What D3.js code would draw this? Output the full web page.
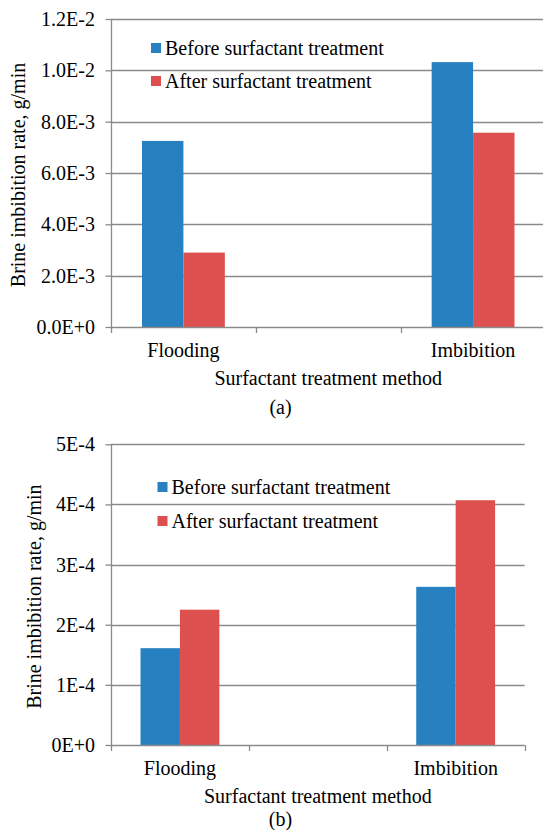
<!DOCTYPE html>
<html>
<head>
<meta charset="utf-8">
<script src="https://cdn.jsdelivr.net/npm/d3@7"></script>
</head>
<body style="margin:0">
<svg id="chart" width="543" height="830" font-family="Liberation Serif"></svg>
<script>
// ---------------- data ----------------
const categories = ["Flooding", "Imbibition"];
const bandSlots = ["Flooding", "", "Imbibition"];   // Excel category slots (middle one empty)
const seriesNames = ["Before surfactant treatment", "After surfactant treatment"];

const beforeA = [7.25e-3, 1.032e-2];
const afterA  = [2.90e-3, 7.57e-3];
const beforeB = [1.61e-4, 2.63e-4];
const afterB  = [2.25e-4, 4.07e-4];

const ticksA = [0, 2e-3, 4e-3, 6e-3, 8e-3, 1.0e-2, 1.2e-2];
const tickLabelsA = ["0.0E+0", "2.0E-3", "4.0E-3", "6.0E-3", "8.0E-3", "1.0E-2", "1.2E-2"];
const ticksB = [0, 1e-4, 2e-4, 3e-4, 4e-4, 5e-4];
const tickLabelsB = ["0E+0", "1E-4", "2E-4", "3E-4", "4E-4", "5E-4"];

const yTitle = "Brine imbibition rate, g/min";
const xTitle = "Surfactant treatment method";
const colors = ["#2780C0", "#DE5050"];

// ---------------- drawing ----------------
const svg = d3.select("#chart");
const gridColor = "#8a8a8a";

function addText(parent, x, y, str, anchor) {
  return parent.append("text")
    .attr("font-family", "Liberation Serif")
    .attr("font-size", 20)
    .attr("x", x).attr("y", y)
    .attr("text-anchor", anchor || "start")
    .text(str);
}

function drawPanel(cfg) {
  const g = svg.append("g");
  const x = d3.scaleBand().domain(bandSlots).range([cfg.left, cfg.right]);
  const y = d3.scaleLinear().domain([0, cfg.max]).range([cfg.bottom, cfg.top]);

  // gridlines
  g.selectAll("line.grid").data(cfg.ticks.slice(1)).join("line")
    .attr("x1", cfg.left).attr("x2", cfg.gridRight)
    .attr("y1", d => Math.round(y(d)) + 0.5).attr("y2", d => Math.round(y(d)) + 0.5)
    .attr("stroke", gridColor).attr("stroke-width", 1.3);

  // bars
  const inner = d3.scaleBand().domain([0, 1]).range([0, x.bandwidth() * 0.572]);
  const off = x.bandwidth() * (1 - 0.572) / 2;
  [cfg.before, cfg.after].forEach((vals, si) => {
    g.selectAll("rect.s" + si).data(categories).join("rect")
      .attr("x", c => x(c) + off + inner(si))
      .attr("y", (c, i) => y(vals[i]))
      .attr("width", inner.bandwidth())
      .attr("height", (c, i) => y(0) - y(vals[i]))
      .attr("fill", colors[si]);
  });

  // y axis (line + ticks via d3 axis, labels as plain text)
  const yAxis = d3.axisLeft(y).tickValues(cfg.ticks).tickFormat(() => "").tickSize(6);
  const ya = g.append("g").attr("transform", `translate(${Math.round(cfg.left) + 0.5},0)`).call(yAxis);
  ya.select(".domain").attr("stroke", gridColor).attr("stroke-width", 1.3)
    .attr("d", `M0,${cfg.top}V${cfg.bottom + 6}`);
  ya.selectAll(".tick line").attr("stroke", gridColor).attr("stroke-width", 1.3);
  ya.selectAll(".tick text").remove();
  cfg.ticks.forEach((t, i) => {
    addText(g, cfg.left - 16, y(t) + 7, cfg.tickLabels[i], "end");
  });

  // x axis line + ticks at band boundaries
  g.append("line").attr("x1", cfg.left).attr("x2", cfg.gridRight)
    .attr("y1", Math.round(y(0)) + 0.5).attr("y2", Math.round(y(0)) + 0.5)
    .attr("stroke", gridColor).attr("stroke-width", 1.3);
  const bounds = bandSlots.map(s => x(s) + x.bandwidth());
  g.selectAll("line.xt").data(bounds).join("line")
    .attr("x1", d => Math.round(d) + 0.5).attr("x2", d => Math.round(d) + 0.5)
    .attr("y1", y(0)).attr("y2", y(0) + 6)
    .attr("stroke", gridColor).attr("stroke-width", 1.3);
  categories.forEach(c => addText(g, x(c) + x.bandwidth() / 2, y(0) + 30, c, "middle"));

  // titles
  addText(g, (cfg.left + cfg.right) / 2, y(0) + 58, xTitle, "middle");
  addText(g, 0, 0, yTitle, "middle")
    .attr("transform", `translate(${cfg.yTitleX},${(cfg.top + cfg.bottom) / 2 + 2}) rotate(-90)`);
  addText(g, cfg.labelX, cfg.labelY, cfg.label, "middle");

  // legend
  seriesNames.forEach((name, i) => {
    const cy = cfg.legendY + i * cfg.legendGap;
    g.append("rect").attr("x", cfg.legendX).attr("y", cy - 5)
      .attr("width", 10).attr("height", 10).attr("fill", colors[i]);
    addText(g, cfg.legendX + 14, cy + 7, name, "start");
  });
}

drawPanel({
  left: 111, right: 545.5, gridRight: 543, top: 19, bottom: 327, max: 0.012,
  ticks: ticksA, tickLabels: tickLabelsA, before: beforeA, after: afterA,
  yTitleX: 25, label: "(a)", labelX: 280.5, labelY: 414,
  legendX: 151, legendY: 48, legendGap: 33
});

drawPanel({
  left: 111, right: 524.6, gridRight: 524.6, top: 444.3, bottom: 745, max: 5e-4,
  ticks: ticksB, tickLabels: tickLabelsB, before: beforeB, after: afterB,
  yTitleX: 41, label: "(b)", labelX: 280.5, labelY: 826,
  legendX: 157.5, legendY: 487, legendGap: 34
});
</script>
</body>
</html>
